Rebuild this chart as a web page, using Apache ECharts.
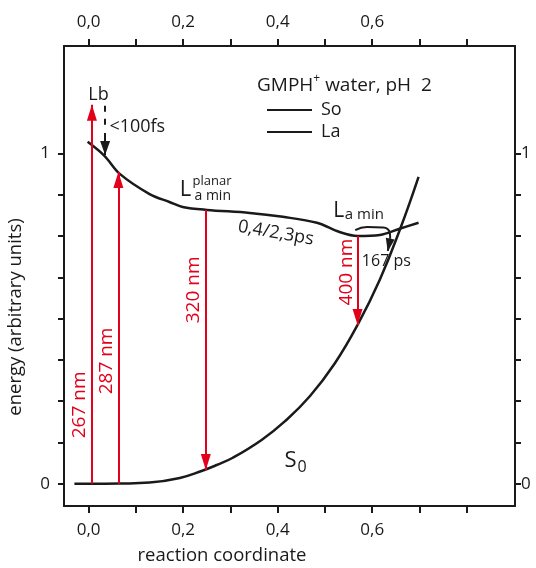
<!DOCTYPE html>
<html><head><meta charset="utf-8">
<script src="https://cdn.jsdelivr.net/npm/echarts@6/dist/echarts.min.js"></script>
<style>html,body{margin:0;padding:0;background:#fff}#c{width:536px;height:568px}</style>
</head><body><div id="c"></div>
<script>
// ---- axis ticks / labels ----
const xTickValues = [0, 0.1, 0.2, 0.3, 0.4, 0.5, 0.6, 0.7, 0.8];
const xLabelValues = [0, 0.2, 0.4, 0.6];
const yTickValues = [0, 0.125, 0.25, 0.375, 0.5, 0.625, 0.75, 0.875, 1];
const yLabelValues = [0, 1];

// ---- ground state S0 ----
const s0X = [-0.03, 0.0, 0.066, 0.129, 0.193, 0.239, 0.271, 0.305, 0.366, 0.415, 0.468, 0.521, 0.569, 0.616, 0.660, 0.698];
const s0Y = [0, 0, 0.001, 0.004, 0.018, 0.039, 0.057, 0.079, 0.133, 0.189, 0.265, 0.365, 0.481, 0.618, 0.775, 0.929];

// ---- excited state La ----
const laX = [-0.002, 0.034, 0.066, 0.129, 0.171, 0.199, 0.250, 0.341, 0.411, 0.483, 0.531, 0.569, 0.616, 0.658, 0.698];
const laY = [1.035, 0.992, 0.938, 0.877, 0.853, 0.838, 0.829, 0.820, 0.808, 0.790, 0.762, 0.750, 0.753, 0.772, 0.790];

// ---- vertical transitions (red arrows) ----
const arrowX = [0.007, 0.063, 0.248, 0.569];
const arrowStart = [0, 0, 0.829, 0.750];
const arrowEnd = [1.147, 0.944, 0.042, 0.481];
const arrowText = ['267 nm', '287 nm', '320 nm', '400 nm'];
const arrowTextX = [-0.019, 0.038, 0.222, 0.546];
const arrowTextY = [0.239, 0.372, 0.587, 0.641];

// ---- relaxation arrows ----
const lbX = 0.035;
const lbDash = [1.144, 1.083];
const lbArrow = [1.062, 0.995];
const laMinPathX = [0.564, 0.589, 0.623, 0.637, 0.638];
const laMinPathY = [0.768, 0.777, 0.776, 0.760, 0.742];
const laMinHead = [[0.638, 0.742], [0.633, 0.705]];

// ---- annotation texts ----
const annotations = [
  {t: 'Lb', x: 0.021, y: 1.177, fs: 18},
  {t: '<100fs', x: 0.044, y: 1.080, fs: 18, align: 'left'},
  {t: 'L', x: 0.205, y: 0.890, fs: 22},
  {t: 'planar', x: 0.220, y: 0.917, fs: 13, align: 'left'},
  {t: 'a min', x: 0.224, y: 0.871, fs: 14, align: 'left'},
  {t: '0,4/2,3ps', x: 0.396, y: 0.759, fs: 18, rot: -10},
  {t: 'L', x: 0.529, y: 0.826, fs: 21},
  {t: 'a min', x: 0.542, y: 0.814, fs: 15, align: 'left'},
  {t: '167 ps', x: 0.578, y: 0.672, fs: 16, align: 'left'},
  {t: 'S', x: 0.427, y: 0.070, fs: 22},
  {t: '0', x: 0.442, y: 0.051, fs: 16, align: 'left'}
];

const FONT = 'Open Sans';
const INK = '#1a1a1a';
const RED = '#e2001a';
const fmtX = v => v.toFixed(1).replace('.', ',');
const fmtY = v => String(Math.round(v));
const zip = (a, b) => a.map((v, i) => [v, b[i]]);

const xAxisBase = (pos, margin) => ({
  type: 'value', position: pos, min: -0.052, max: 0.902,
  axisLine: {show: true, onZero: false, lineStyle: {color: INK, width: 2}},
  axisTick: {show: true, inside: false, length: 7, lineStyle: {color: INK, width: 2}, customValues: xTickValues},
  axisLabel: {show: true, margin: margin, fontFamily: FONT, fontSize: 17, color: INK, customValues: xLabelValues, formatter: fmtX},
  splitLine: {show: false}
});
const yAxisBase = (pos, margin) => ({
  type: 'value', position: pos, min: -0.067, max: 1.325,
  axisLine: {show: true, onZero: false, lineStyle: {color: INK, width: 2}},
  axisTick: {show: true, inside: false, length: 6, lineStyle: {color: INK, width: 2}, customValues: yTickValues},
  axisLabel: {show: true, margin: margin, fontFamily: FONT, fontSize: 17, color: INK, customValues: yLabelValues, formatter: fmtY},
  splitLine: {show: false}
});

const redLines = arrowX.map((x, i) => [
  {coord: [x, arrowStart[i]], symbol: 'none'},
  {coord: [x, arrowEnd[i]], symbol: 'triangle', symbolSize: [10, 16], symbolOffset: [0, 8]}
]);

const chart = echarts.init(document.getElementById('c'), null, {renderer: 'canvas'});
chart.setOption({
  animation: false,
  backgroundColor: '#fff',
  grid: {left: 64, right: 21, top: 46, bottom: 62, containLabel: false},
  title: {
    text: '{a|GMPH}{s|+}{a| water, pH  2}',
    left: 252, top: 68,
    textStyle: {fontWeight: 'normal', rich: {
      a: {fontFamily: FONT, fontSize: 19, fontWeight: 'normal', color: INK, verticalAlign: 'bottom', lineHeight: 22},
      s: {fontFamily: FONT, fontSize: 12, fontWeight: 'normal', color: INK, verticalAlign: 'top', lineHeight: 22, padding: [0, 0, 9, 0]}
    }}
  },
  legend: {
    data: ['So', 'La'], orient: 'vertical', left: 262, top: 95,
    icon: 'rect', itemWidth: 45, itemHeight: 2, itemGap: 2,
    textStyle: {fontFamily: FONT, fontSize: 18, color: INK, lineHeight: 20, padding: [0, 0, 0, 4]},
    itemStyle: {color: INK}, selectedMode: false
  },
  xAxis: [xAxisBase('bottom', 16), xAxisBase('top', 15)],
  yAxis: [yAxisBase('left', 14), yAxisBase('right', 6)],
  graphic: [
    {type: 'text', x: 222, y: 556, style: {text: 'reaction coordinate', fontFamily: FONT, fontSize: 18.5, fill: INK, align: 'center', verticalAlign: 'middle'}},
    {type: 'text', x: 16, y: 317, rotation: Math.PI / 2, style: {text: 'energy (arbitrary units)', fontFamily: FONT, fontSize: 18.5, fill: INK, align: 'center', verticalAlign: 'middle'}}
  ],
  series: [
    {
      name: 'So', type: 'line', data: zip(s0X, s0Y), smooth: 0.45, showSymbol: false, symbol: 'none',
      lineStyle: {color: INK, width: 2.5}, itemStyle: {color: INK}, silent: true, z: 2
    },
    {
      name: 'La', type: 'line', data: zip(laX, laY), smooth: 0.35, showSymbol: false, symbol: 'none',
      lineStyle: {color: INK, width: 2.5}, itemStyle: {color: INK}, silent: true, z: 2
    },
    {
      name: 'transitions', type: 'line', data: [], silent: true, z: 3,
      markLine: {
        silent: true, animation: false,
        label: {show: false}, emphasis: {disabled: true},
        lineStyle: {color: RED, width: 2, type: 'solid'},
        data: redLines
      }
    },
    {
      name: 'relax', type: 'line', data: [], silent: true, z: 3,
      markLine: {
        silent: true, animation: false,
        label: {show: false}, emphasis: {disabled: true},
        data: [
          [{coord: [lbX, lbDash[0]], symbol: 'none', lineStyle: {color: INK, width: 2, type: [6, 7]}}, {coord: [lbX, lbDash[1]], symbol: 'none'}],
          [{coord: [lbX, lbArrow[0]], symbol: 'none', lineStyle: {color: INK, width: 2, type: 'solid'}}, {coord: [lbX, lbArrow[1]], symbol: 'triangle', symbolSize: [10, 14], symbolOffset: [0, 7]}],
          [{coord: laMinHead[0], symbol: 'none', lineStyle: {color: INK, width: 2, type: 'solid'}}, {coord: laMinHead[1], symbol: 'triangle', symbolSize: [9, 13], symbolOffset: [0, 6]}]
        ]
      }
    },
    {
      name: 'relaxCurve', type: 'line', data: zip(laMinPathX, laMinPathY), smooth: 0.5, showSymbol: false, symbol: 'none',
      lineStyle: {color: INK, width: 2}, silent: true, z: 3
    },
    {
      name: 'labels', type: 'scatter', symbolSize: 0, silent: true, z: 5,
      itemStyle: {opacity: 1}, emphasis: {disabled: true},
      data: arrowText.map((t, i) => ({
        value: [arrowTextX[i], arrowTextY[i]],
        label: {show: true, formatter: t, position: 'inside', rotate: 90, fontFamily: FONT, fontSize: 19, color: RED, opacity: 1, align: 'center', verticalAlign: 'middle'}
      })).concat(annotations.map(a => ({
        value: [a.x, a.y],
        label: {show: true, formatter: a.t, position: 'inside', rotate: a.rot || 0, fontFamily: FONT, fontSize: a.fs, color: INK, opacity: 1, align: a.align || 'center', verticalAlign: 'middle'}
      })))
    }
  ]
});
</script></body></html>
